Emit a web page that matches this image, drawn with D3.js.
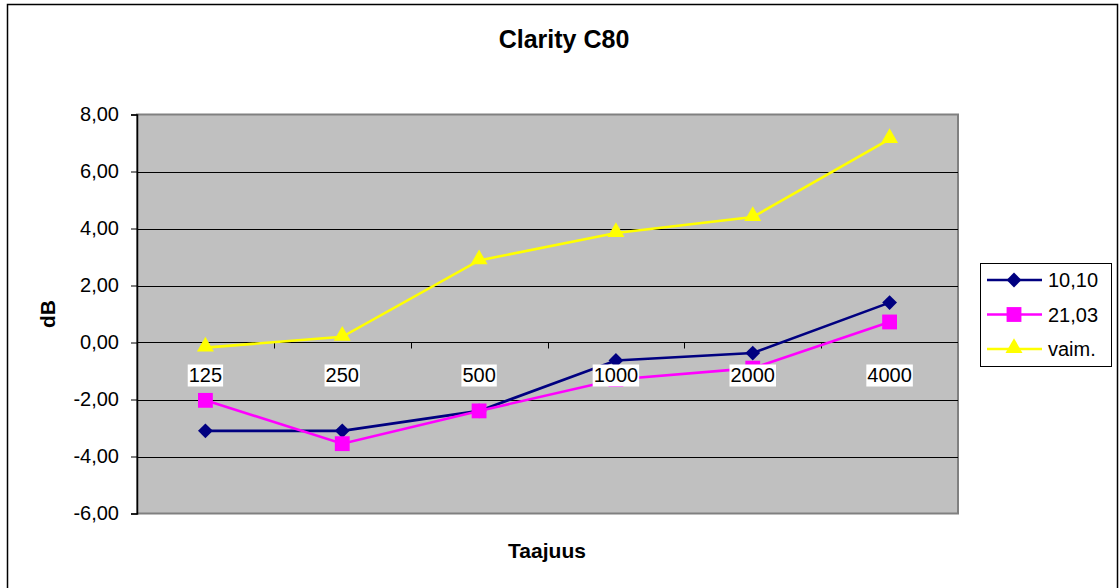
<!DOCTYPE html>
<html>
<head>
<meta charset="utf-8">
<script src="https://cdn.jsdelivr.net/npm/d3@7"></script>
<style>
  body { margin: 0; background: #fff; }
  text { font-family: "Liberation Sans", Arial, sans-serif; }
</style>
</head>
<body>
<svg id="chart" width="1119" height="588"></svg>
<script>
// chart data
const categories = ['125', '250', '500', '1000', '2000', '4000'];
const series1 = [-3.1, -3.1, -2.4, -0.63, -0.37, 1.4];   // 10,10
const series2 = [-2.03, -3.55, -2.4, -1.3, -0.9, 0.72];  // 21,03
const series3 = [-0.18, 0.2, 2.88, 3.84, 4.4, 7.14];     // vaim.
const seriesNames = ['10,10', '21,03', 'vaim.'];
const yTicks = [-6, -4, -2, 0, 2, 4, 6, 8];

const svg = d3.select('#chart');

// outer border
svg.append('rect')
  .attr('x', 7.5).attr('y', 4.5)
  .attr('width', 1110).attr('height', 600)
  .attr('fill', '#fff').attr('stroke', '#000').attr('stroke-width', 1.5);

const plot = { left: 137, top: 114.5, right: 958, bottom: 513.5 };

const x = d3.scaleBand().domain(categories).range([plot.left, plot.right]);
const y = d3.scaleLinear().domain([-6, 8]).range([plot.bottom, plot.top]);

// plot area background
svg.append('rect')
  .attr('x', plot.left).attr('y', plot.top)
  .attr('width', plot.right - plot.left).attr('height', plot.bottom - plot.top)
  .attr('fill', '#c0c0c0')
  .attr('stroke', '#808080').attr('stroke-width', 2);

// gridlines
svg.append('g')
  .selectAll('line')
  .data(yTicks.filter((d) => d > -6 && d < 8))
  .enter()
  .append('line')
  .attr('x1', plot.left).attr('x2', plot.right)
  .attr('y1', (d) => Math.round(y(d)) + 0.5)
  .attr('y2', (d) => Math.round(y(d)) + 0.5)
  .attr('stroke', '#000').attr('stroke-width', 1);

// y axis
const yAxis = d3.axisLeft(y)
  .tickValues(yTicks)
  .tickSize(6)
  .tickPadding(12)
  .tickFormat((d) => d3.format('.2f')(d).replace('.', ',').replace('\u2212', '-'));

const yg = svg.append('g')
  .attr('transform', `translate(${plot.left},0)`)
  .call(yAxis);
yg.attr('font-size', null).attr('font-family', null);
yg.select('.domain').attr('stroke', '#000').attr('stroke-width', 1.5);
yg.selectAll('.tick line').attr('stroke', '#000');
yg.selectAll('.tick text')
  .attr('font-size', 20)
  .attr('fill', '#000');

// category axis on the zero line
const zeroY = Math.round(y(0)) + 0.5;
svg.append('line')
  .attr('x1', plot.left).attr('x2', plot.right)
  .attr('y1', zeroY).attr('y2', zeroY)
  .attr('stroke', '#000').attr('stroke-width', 1);

svg.append('g')
  .selectAll('line')
  .data(categories.slice(1))
  .enter()
  .append('line')
  .attr('x1', (d) => Math.round(x(d)) + 0.5)
  .attr('x2', (d) => Math.round(x(d)) + 0.5)
  .attr('y1', zeroY).attr('y2', zeroY + 6)
  .attr('stroke', '#000');

// lines and markers
const colors = ['#000080', '#ff00ff', '#ffff00'];
const allSeries = [series1, series2, series3];

const line = d3.line()
  .x((d, i) => x(categories[i]) + x.bandwidth() / 2)
  .y((d) => y(d));

const diamond = d3.symbol().type(d3.symbolDiamond2).size(140);
const square = d3.symbol().type(d3.symbolSquare).size(220);
const triangle = d3.symbol().type(d3.symbolTriangle).size(125);
const symbols = [diamond, square, triangle];

allSeries.forEach((vals, si) => {
  svg.append('path')
    .datum(vals)
    .attr('d', line)
    .attr('fill', 'none')
    .attr('stroke', colors[si])
    .attr('stroke-width', 2.6);

  svg.append('g')
    .selectAll('path')
    .data(vals)
    .enter()
    .append('path')
    .attr('transform', (d, i) => `translate(${x(categories[i]) + x.bandwidth() / 2},${y(d) + (si === 2 ? -1 : 0)})`)
    .attr('d', symbols[si]())
    .attr('fill', colors[si]);
});

// category labels with white background
const catLabels = svg.append('g')
  .selectAll('g')
  .data(categories)
  .enter()
  .append('g')
  .attr('transform', (d) => `translate(${x(d) + x.bandwidth() / 2},${zeroY + 39})`);

catLabels.append('text')
  .attr('text-anchor', 'middle')
  .attr('font-size', 20)
  .attr('fill', '#000')
  .text((d) => d)
  .each(function () {
    const b = this.getBBox();
    d3.select(this.parentNode)
      .insert('rect', 'text')
      .attr('x', b.x - 1).attr('y', b.y + 1)
      .attr('width', b.width + 2).attr('height', b.height)
      .attr('fill', '#fff');
  });

// titles
svg.append('text')
  .attr('x', 564).attr('y', 48)
  .attr('text-anchor', 'middle')
  .attr('font-size', 25).attr('font-weight', 'bold')
  .text('Clarity C80');

svg.append('text')
  .attr('x', 547).attr('y', 558)
  .attr('text-anchor', 'middle')
  .attr('font-size', 21).attr('font-weight', 'bold')
  .text('Taajuus');

svg.append('text')
  .attr('transform', 'translate(55,314) rotate(-90)')
  .attr('text-anchor', 'middle')
  .attr('font-size', 21).attr('font-weight', 'bold')
  .text('dB');

// legend
const legend = svg.append('g').attr('transform', 'translate(980,263)');
legend.append('rect')
  .attr('x', 0.5).attr('y', 0.5)
  .attr('width', 131).attr('height', 103)
  .attr('fill', '#fff').attr('stroke', '#000').attr('stroke-width', 1);

seriesNames.forEach((name, i) => {
  const ly = 17 + i * 34.5;
  legend.append('line')
    .attr('x1', 7).attr('x2', 62)
    .attr('y1', ly).attr('y2', ly)
    .attr('stroke', colors[i]).attr('stroke-width', 2.6);
  legend.append('path')
    .attr('transform', `translate(34,${ly + (i === 2 ? -1 : 0)})`)
    .attr('d', symbols[i]())
    .attr('fill', colors[i]);
  legend.append('text')
    .attr('x', 68).attr('y', ly + 7)
    .attr('font-size', 20)
    .text(name);
});
</script>
</body>
</html>
